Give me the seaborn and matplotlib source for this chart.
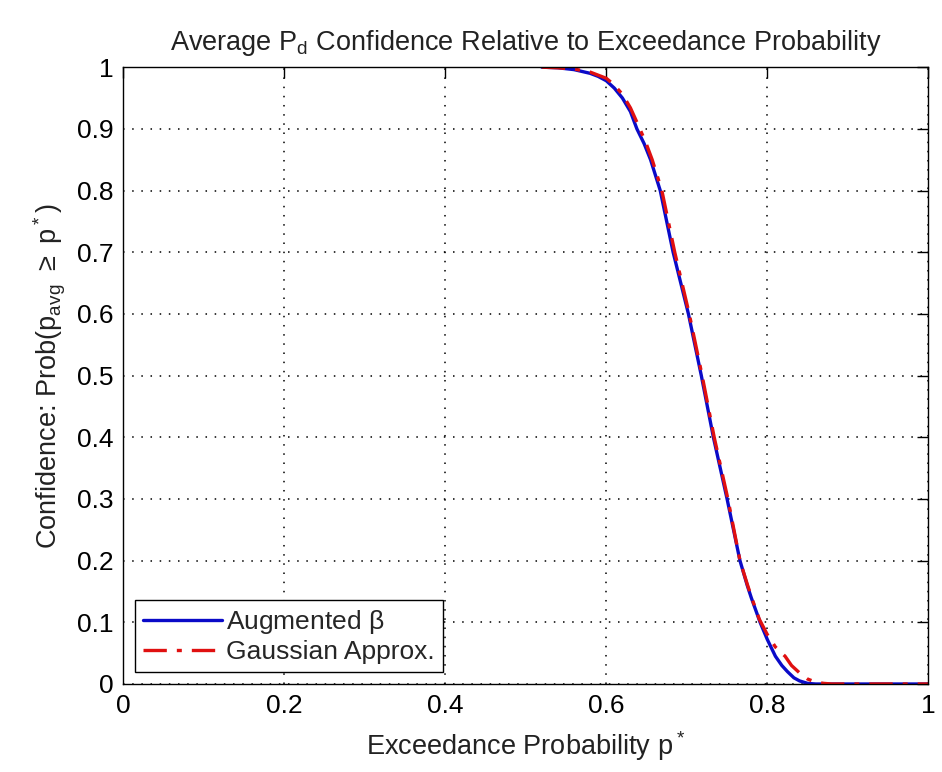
import matplotlib
matplotlib.use("Agg")
import matplotlib.pyplot as plt
import seaborn as sns
import pandas as pd

# valeurs
beta_x = [0.52, 0.54, 0.56, 0.58, 0.59, 0.60, 0.61, 0.62, 0.63, 0.638, 0.647,
          0.655, 0.667, 0.683, 0.702, 0.718, 0.733, 0.75, 0.766, 0.775, 0.78,
          0.791, 0.80, 0.81, 0.818, 0.825, 0.833, 0.84, 0.85, 0.86, 1.0]
beta_y = [1.0, 0.999, 0.996, 0.99, 0.985, 0.978, 0.966, 0.95, 0.928, 0.90, 0.876,
          0.85, 0.80, 0.70, 0.60, 0.50, 0.40, 0.30, 0.20, 0.16, 0.14,
          0.10, 0.072, 0.045, 0.03, 0.02, 0.01, 0.005, 0.001, 0.0, 0.0]

gauss_x = [0.52, 0.54, 0.56, 0.58, 0.60, 0.61, 0.62, 0.63, 0.64, 0.649, 0.657,
           0.669, 0.685, 0.703, 0.719, 0.734, 0.751, 0.766, 0.775, 0.78, 0.79,
           0.80, 0.81, 0.822, 0.83, 0.84, 0.85, 0.86, 0.87, 0.88, 1.0]
gauss_y = [1.0, 0.999, 0.997, 0.992, 0.982, 0.971, 0.956, 0.934, 0.905, 0.878, 0.85,
           0.80, 0.70, 0.60, 0.50, 0.40, 0.30, 0.20, 0.162, 0.142, 0.105,
           0.08, 0.06, 0.045, 0.03, 0.018, 0.008, 0.003, 0.001, 0.0, 0.0]

df_beta = pd.DataFrame({'x': beta_x, 'y': beta_y})
df_gauss = pd.DataFrame({'x': gauss_x, 'y': gauss_y})

sns.set_style("white")
plt.rcParams['font.family'] = ['Liberation Sans', 'DejaVu Sans']
plt.rcParams['mathtext.default'] = 'regular'

fig = plt.figure(figsize=(9.42, 7.72), dpi=100)
ax = fig.add_axes([0.1306, 0.114, 0.855, 0.799])

sns.lineplot(data=df_beta, x='x', y='y', ax=ax, color='#0a0ac8', linewidth=2.4,
             label=r'Augmented $\beta$', estimator=None, sort=False)
sns.lineplot(data=df_gauss, x='x', y='y', ax=ax, color='#e01010', linewidth=2.4,
             label='Gaussian Approx.', estimator=None, sort=False)
ax.lines[1].set_dashes([7, 3, 1.5, 3])

ax.set_xlim(0, 1)
ax.set_ylim(0, 1)
ax.set_xticks([0, 0.2, 0.4, 0.6, 0.8, 1])
ax.set_xticklabels(['0', '0.2', '0.4', '0.6', '0.8', '1'])
ax.set_yticks([i / 10 for i in range(11)])
ax.set_yticklabels(['0'] + ['0.%d' % i for i in range(1, 10)] + ['1'])

ax.grid(True, color='black', linestyle=(0, (1, 5)), linewidth=1.1)
ax.tick_params(direction='in', length=8, width=1, top=True, right=True,
               labelsize=19, colors='black', pad=7)
for s in ax.spines.values():
    s.set_visible(True)
    s.set_color('black')
    s.set_linewidth(1)

ax.set_title(r'Average P$_d$ Confidence Relative to Exceedance Probability',
             fontsize=19.5, pad=12, color='#222222')
ax.set_xlabel(r'Exceedance Probability p$^*$', fontsize=19.5, labelpad=8, color='#222222')
ax.set_ylabel(r'Confidence: Prob(p$_{avg}$ $\geq$ p$^*$)', fontsize=19.5, labelpad=6, color='#222222')

leg = ax.legend(loc='lower left', bbox_to_anchor=(0.015, 0.019), borderaxespad=0,
                fontsize=19, fancybox=False, edgecolor='black', framealpha=1,
                handlelength=3.0, handletextpad=0.15, borderpad=0.3, labelspacing=0.15)
leg.get_frame().set_linewidth(1)

fig.savefig('out.png', dpi=100)
